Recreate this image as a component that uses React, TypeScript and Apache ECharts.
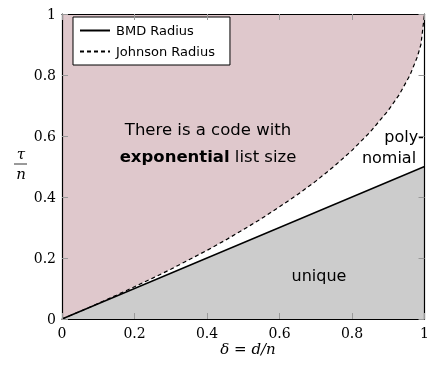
import React, { useEffect, useRef } from "react";
import * as echarts from "echarts";

const bmdX = [0, 1];
const bmdY = [0, 0.5];
const johnsonX = [0, 0.05, 0.1, 0.15, 0.2, 0.25, 0.3, 0.35, 0.4, 0.45, 0.5, 0.55, 0.6, 0.65, 0.7, 0.75, 0.8, 0.85, 0.9, 0.93, 0.96, 0.98, 0.99, 1.0];
const johnsonY = [0, 0.025, 0.051, 0.078, 0.106, 0.134, 0.163, 0.194, 0.225, 0.258, 0.293, 0.329, 0.368, 0.408, 0.452, 0.5, 0.553, 0.613, 0.684, 0.735, 0.8, 0.859, 0.9, 1.0];
const topX = [0, 1];
const topY = [1, 1];

const PINK = "#dfc8cc";
const GRAY = "#cccccc";
const SERIF = "DejaVu Serif";
const SANS = "DejaVu Sans";

export default function App() {
  const ref = useRef<HTMLDivElement>(null);
  useEffect(() => {
    if (!ref.current) return;
    const chart = echarts.init(ref.current, undefined, { renderer: "svg" });
    const axisCommon = {
      type: "value",
      min: 0,
      max: 1,
      interval: 0.2,
      splitLine: { show: false },
      axisLine: { show: true, onZero: false, lineStyle: { color: "#000", width: 1.2 } },
      axisTick: { show: true, inside: true, length: 6, lineStyle: { color: "#999" } },
      z: 10,
    };
    const fmt = (v: number) => (v === 0 || v === 1 ? String(v) : v.toFixed(1));
    chart.setOption({
      animation: false,
      grid: { left: 62, right: 2, top: 14, bottom: 55 },
      xAxis: [
        {
          ...axisCommon,
          position: "bottom",
          axisLabel: { formatter: fmt, fontFamily: SERIF, fontSize: 14, color: "#000", margin: 7 },
        },
        {
          ...axisCommon,
          position: "top",
          axisLabel: { show: false },
        },
      ],
      yAxis: [
        {
          ...axisCommon,
          position: "left",
          axisLabel: { formatter: fmt, fontFamily: SERIF, fontSize: 14, color: "#000", margin: 6 },
        },
        {
          ...axisCommon,
          position: "right",
          axisLabel: { show: false },
        },
      ],
      legend: {
        data: ["BMD Radius", "Johnson Radius"],
        orient: "vertical",
        left: 73,
        top: 17,
        padding: [7, 15, 7, 6],
        itemGap: 8,
        itemWidth: 30,
        itemHeight: 14,
        borderColor: "#000",
        borderWidth: 1,
        borderRadius: 0,
        backgroundColor: "#fff",
        itemStyle: { opacity: 0, borderWidth: 0 },
        textStyle: { fontFamily: SANS, fontSize: 13, color: "#000", padding: [0, 0, 0, 1] },
      },
      series: [
        {
          name: "bg",
          type: "line",
          data: topX.map((x, i) => [x, topY[i]]),
          showSymbol: false,
          symbol: "none",
          lineStyle: { width: 0 },
          areaStyle: { color: PINK, opacity: 1 },
          silent: true,
        },
        {
          name: "Johnson Radius",
          type: "line",
          data: johnsonX.map((x, i) => [x, johnsonY[i]]),
          showSymbol: false,
          symbol: "none",
          lineStyle: { color: "#000", width: 1.2, type: [4, 3] },
          itemStyle: { color: "#000" },
          areaStyle: { color: "#fff", opacity: 1 },
        },
        {
          name: "BMD Radius",
          type: "line",
          data: bmdX.map((x, i) => [x, bmdY[i]]),
          showSymbol: false,
          symbol: "none",
          lineStyle: { color: "#000", width: 1.4 },
          itemStyle: { color: "#000" },
          areaStyle: { color: GRAY, opacity: 1 },
        },
      ],
      graphic: [
        {
          type: "text",
          x: 208,
          y: 143,
          style: {
            text: "There is a code with\n{b|exponential} list size",
            rich: { b: { fontWeight: "bold", fontFamily: SANS, fontSize: 16.5, fill: "#000" } },
            fontFamily: SANS,
            fontSize: 16.5,
            lineHeight: 27,
            fill: "#000",
            align: "center",
            verticalAlign: "middle",
          },
          z: 20,
        },
        {
          type: "text",
          x: 404,
          y: 136,
          style: { text: "poly-", fontFamily: SANS, fontSize: 16, fill: "#000", align: "center", verticalAlign: "middle" },
          z: 20,
        },
        {
          type: "text",
          x: 389,
          y: 157,
          style: { text: "nomial", fontFamily: SANS, fontSize: 16, fill: "#000", align: "center", verticalAlign: "middle" },
          z: 20,
        },
        {
          type: "text",
          x: 319,
          y: 275,
          style: { text: "unique", fontFamily: SANS, fontSize: 16, fill: "#000", align: "center", verticalAlign: "middle" },
          z: 20,
        },
        {
          type: "text",
          x: 21,
          y: 154,
          style: { text: "τ", fontFamily: SERIF, fontStyle: "italic", fontSize: 15, fill: "#000", align: "center", verticalAlign: "middle" },
        },
        {
          type: "line",
          shape: { x1: 14, y1: 164, x2: 27, y2: 164 },
          style: { stroke: "#000", lineWidth: 0.8 },
        },
        {
          type: "text",
          x: 21,
          y: 174,
          style: { text: "n", fontFamily: SERIF, fontStyle: "italic", fontSize: 15, fill: "#000", align: "center", verticalAlign: "middle" },
        },
        {
          type: "text",
          x: 248,
          y: 349,
          style: { text: "δ = d/n", fontFamily: SERIF, fontStyle: "italic", fontSize: 15, fill: "#000", align: "center", verticalAlign: "middle" },
        },
      ],
    });
    return () => chart.dispose();
  }, []);
  return (
    <div
      ref={ref}
      style={{ position: "fixed", left: 0, top: 0, width: 432, height: 374 }}
    />
  );
}
